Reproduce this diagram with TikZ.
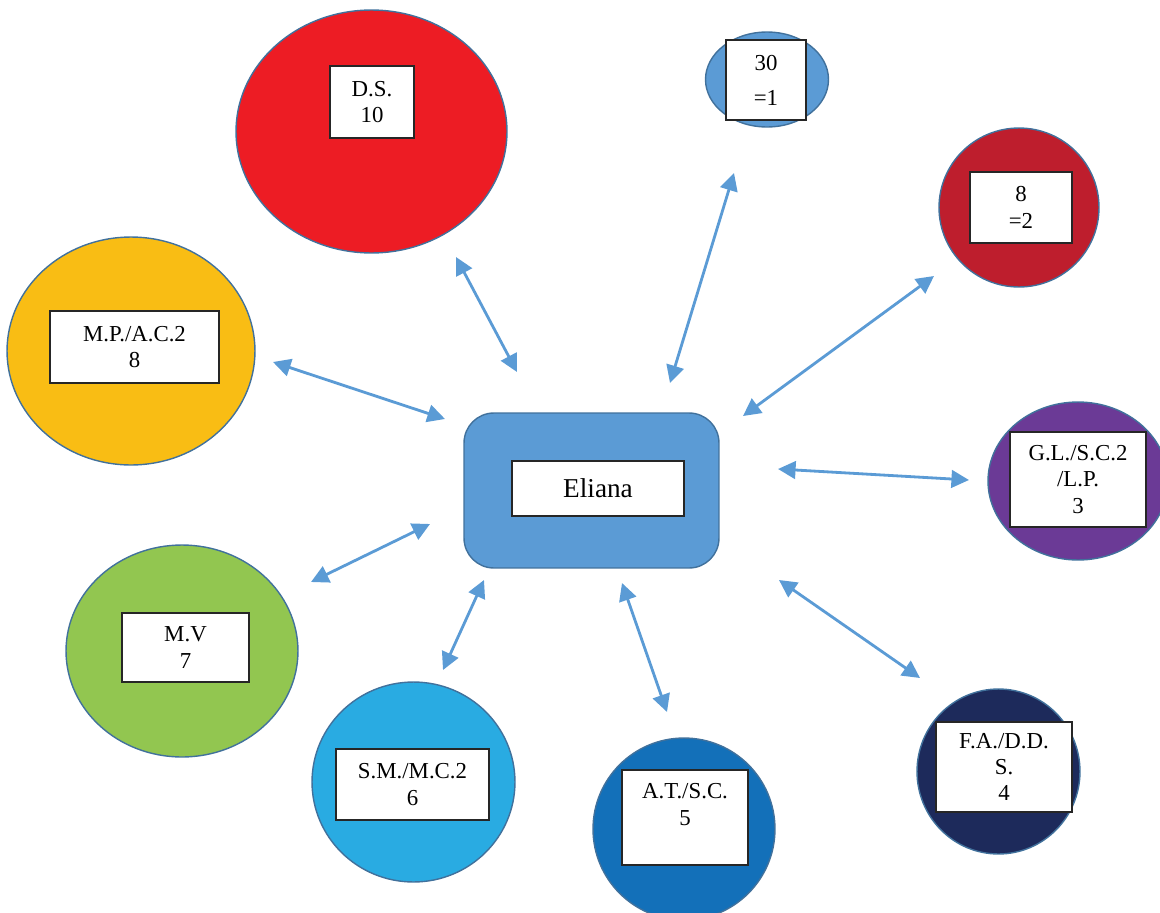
\documentclass[tikz,border=0pt]{standalone}
\usepackage{fontspec}
\setmainfont{Liberation Serif}
\usetikzlibrary{arrows.meta}
\usetikzlibrary{shapes.geometric}
\definecolor{linkblue}{HTML}{5B9BD5}
\definecolor{rimblue}{HTML}{41719C}
\definecolor{dsred}{HTML}{ED1C24}
\definecolor{darkred}{HTML}{BE1E2D}
\definecolor{glpurple}{HTML}{6B3A96}
\definecolor{fanavy}{HTML}{1D2A5B}
\definecolor{atblue}{HTML}{1370B9}
\definecolor{smblue}{HTML}{29ABE2}
\definecolor{mvgreen}{HTML}{92C650}
\definecolor{mpyellow}{HTML}{F9BD14}
\tikzset{circ/.style={ellipse, draw=rimblue, line width=0.8pt, inner sep=0pt, fill=#1}}
\tikzset{lbl/.style={draw=black!85, line width=1pt, fill=white, inner sep=0pt, align=center,
    font=\fontsize{13}{15}\selectfont}}
\tikzset{link/.style={draw=linkblue, line width=1.6pt,
    {Triangle[length=10pt,width=10pt]}-{Triangle[length=10pt,width=10pt]}}}

\begin{document}
\begin{tikzpicture}[x=0.02cm, y=-0.02cm]
            \useasboundingbox (0,0) rectangle (1160,913);
            % outer ellipses
            \node[circ=dsred, minimum width=5.42cm, minimum height=4.86cm] (ds) at (371.5,131.5) {};
            \node[circ=linkblue, minimum width=2.46cm, minimum height=1.9cm] (eq1) at (767,79.5) {};
            \node[circ=darkred, minimum width=3.2cm, minimum height=3.18cm] (eq2) at (1019,207.5) {};
            \node[circ=glpurple, minimum width=3.6cm, minimum height=3.16cm] (gl) at (1078,481) {};
            \node[circ=fanavy, minimum width=3.26cm, minimum height=3.3cm] (fa) at (998.5,771.5) {};
            \node[circ=atblue, minimum width=3.64cm, minimum height=3.64cm] (at) at (684,829) {};
            \node[circ=smblue, minimum width=4.06cm, minimum height=4cm] (sm) at (413.5,782) {};
            \node[circ=mvgreen, minimum width=4.64cm, minimum height=4.24cm] (mv) at (182,651) {};
            \node[circ=mpyellow, minimum width=4.96cm, minimum height=4.56cm] (mp) at (131,351) {};
            \node[draw=rimblue, fill=linkblue, line width=0.8pt, rounded corners=17pt,
                minimum width=5.1cm, minimum height=3.1cm] (eliana) at (591.5,490.5) {};
            % labels
            \node[lbl, minimum width=1.68cm, minimum height=1.44cm] (ds-box) at (372,102) {D.S.\\10};
            \node[lbl, minimum width=1.6cm, minimum height=1.6cm] (eq1-box) at (766,80) {30\\[5pt]=1};
            \node[lbl, minimum width=2.04cm, minimum height=1.42cm] (eq2-box) at (1021,207.5) {8\\=2};
            \node[lbl, minimum width=2.72cm, minimum height=1.9cm] (gl-box) at (1078,479.5) {G.L./S.C.2\\/L.P.\\3};
            \node[lbl, minimum width=2.72cm, minimum height=1.8cm] (fa-box) at (1004,767) {F.A./D.D.\\S.\\4};
            \node[lbl, minimum width=2.52cm, minimum height=1.9cm] (at-box) at (685,817.5) {A.T./S.C.\\5\\~};
            \node[lbl, minimum width=3.06cm, minimum height=1.42cm] (sm-box) at (412.5,784.5) {S.M./M.C.2\\6};
            \node[lbl, minimum width=2.54cm, minimum height=1.38cm] (mv-box) at (185.5,647.5) {M.V\\7};
            \node[lbl, minimum width=3.38cm, minimum height=1.44cm] (mp-box) at (134.5,347) {M.P./A.C.2\\8};
            \node[lbl, minimum width=3.44cm, minimum height=1.1cm, font=\fontsize{15.5}{18}\selectfont]
                (eliana-box) at (598,488.5) {Eliana};
            % arrow ends
            \coordinate (mp-a) at (273,362);  \coordinate (mp-b) at (445,419);
            \coordinate (ds-a) at (456,257);  \coordinate (ds-b) at (517,372);
            \coordinate (eq1-a) at (734,173); \coordinate (eq1-b) at (670,383);
            \coordinate (eq2-a) at (934,276); \coordinate (eq2-b) at (743,416);
            \coordinate (gl-a) at (778,469);  \coordinate (gl-b) at (969,480);
            \coordinate (fa-a) at (779,580);  \coordinate (fa-b) at (920,678);
            \coordinate (at-a) at (622,583);  \coordinate (at-b) at (667,712);
            \coordinate (sm-a) at (484,580);  \coordinate (sm-b) at (443,670);
            \coordinate (mv-a) at (430,524);  \coordinate (mv-b) at (311,582);
            \draw[link] (mp-a) -- (mp-b);
            \draw[link] (ds-a) -- (ds-b);
            \draw[link] (eq1-a) -- (eq1-b);
            \draw[link] (eq2-a) -- (eq2-b);
            \draw[link] (gl-a) -- (gl-b);
            \draw[link] (fa-a) -- (fa-b);
            \draw[link] (at-a) -- (at-b);
            \draw[link] (sm-a) -- (sm-b);
            \draw[link] (mv-a) -- (mv-b);
        \end{tikzpicture}
\end{document}
